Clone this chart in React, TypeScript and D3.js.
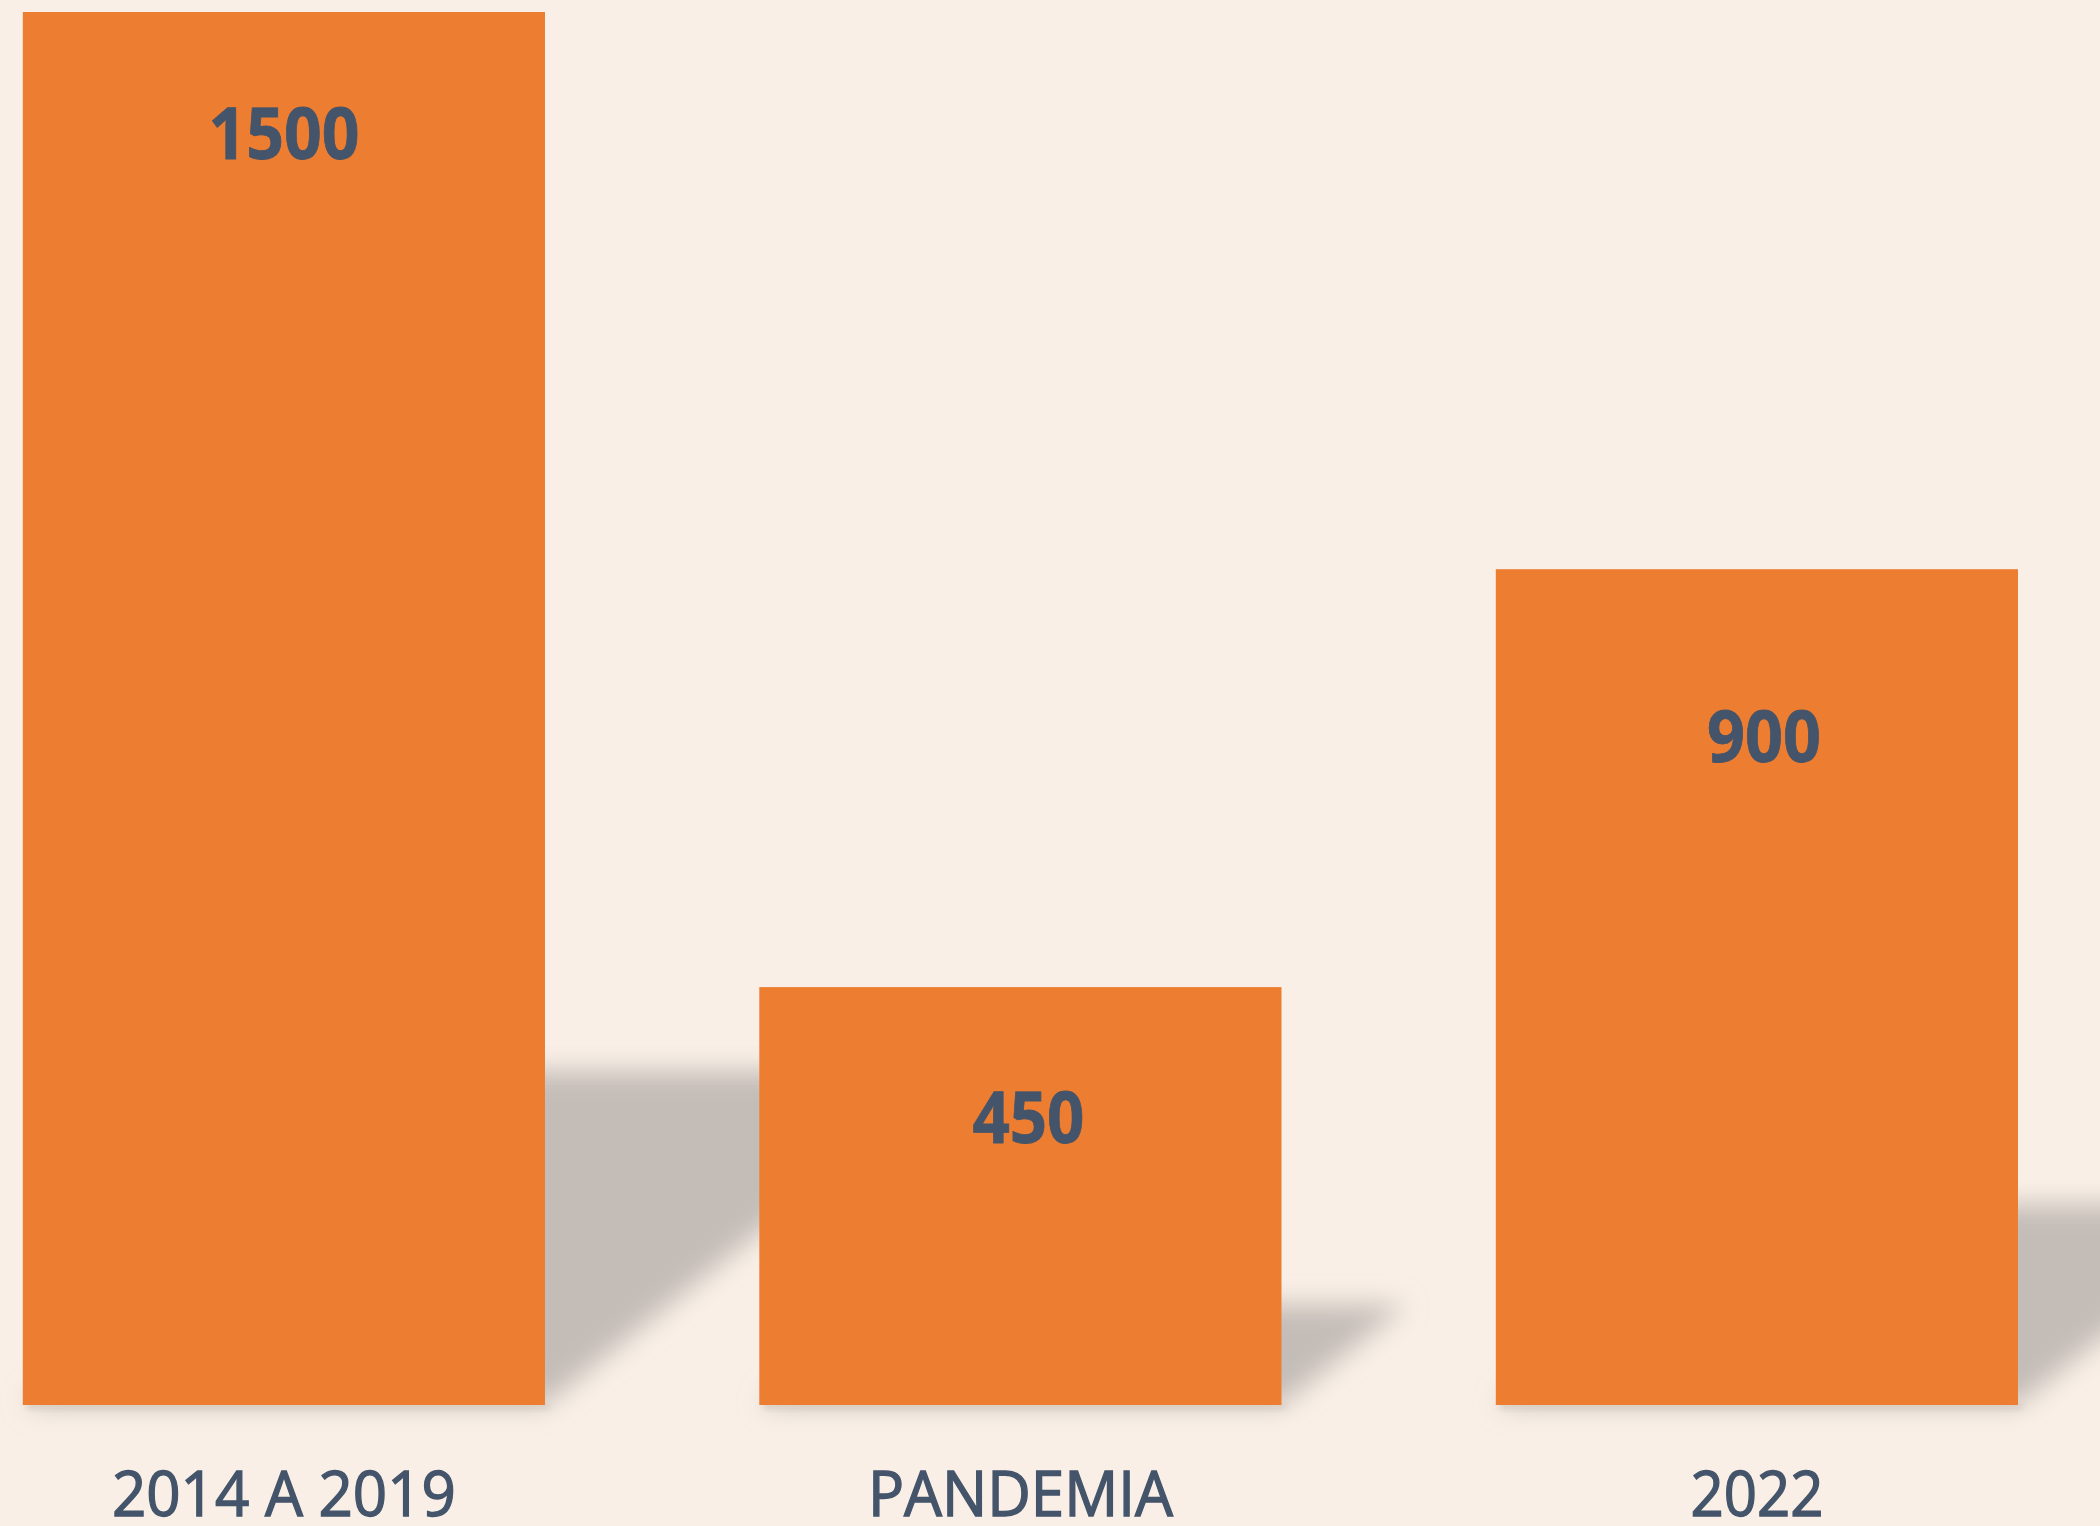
import React from "react";
import * as d3 from "d3";

// ---- data ----
const categories = ["2014 A 2019", "PANDEMIA", "2022"];
const values = [1500, 450, 900];
const valueLabels = ["1500", "450", "900"];

// ---- layout / style (not data) ----
const W = 2100;
const H = 1526;
const BG = "#F9EFE6";
const BAR = "#ED7D31";
const TEXT = "#44546A";
const labelDy = [147, 156, 193];
const labelDx = [0, 8, 7];
const valueLabelWidths = [151, 112, 114];
const catLabelWidths = [344, 305, 133];

export default function App() {
  const x = d3
    .scaleBand<string>()
    .domain(categories)
    .range([22.8, 2018])
    .paddingInner(0.291)
    .paddingOuter(0);
  const y = d3.scaleLinear().domain([0, 1500]).range([1405, 12]);
  const base = y(0);
  const shadowScale = 0.24;
  const shadowSkew = 1.24;

  return (
    <svg
      width={W}
      height={H}
      style={{ position: "absolute", left: 0, top: 0, display: "block" }}
    >
      <defs>
        <filter id="blur" x="-50%" y="-50%" width="200%" height="200%">
          <feGaussianBlur stdDeviation={13} />
        </filter>
        <filter id="blurSmall" x="-10%" y="-50%" width="120%" height="200%">
          <feGaussianBlur stdDeviation={3} />
        </filter>
      </defs>
      <rect x={0} y={0} width={W} height={H} fill={BG} />
      {/* perspective shadows */}
      {categories.map((c, i) => {
        const x0 = x(c)!;
        const x1 = x0 + x.bandwidth();
        const h = base - y(values[i]);
        const sh = h * shadowScale;
        const dx = sh * shadowSkew;
        const p = d3.path();
        p.moveTo(x0, base);
        p.lineTo(x1, base);
        p.lineTo(x1 + dx, base - sh);
        p.lineTo(x0 + dx, base - sh);
        p.closePath();
        return (
          <path key={"s" + i} d={p.toString()} fill="#c4bdb7" filter="url(#blur)" />
        );
      })}
      {/* small drop shadow under bars */}
      {categories.map((c, i) => (
        <rect
          key={"d" + i}
          x={x(c)! + 4}
          y={base - 4}
          width={x.bandwidth()}
          height={8}
          fill="#d9cfc6"
          filter="url(#blurSmall)"
        />
      ))}
      {/* bars */}
      {categories.map((c, i) => (
        <rect
          key={"b" + i}
          x={x(c)!}
          y={y(values[i])}
          width={x.bandwidth()}
          height={base - y(values[i])}
          fill={BAR}
        />
      ))}
      {/* value labels */}
      {categories.map((c, i) => {
        const cx = x(c)! + x.bandwidth() / 2 + labelDx[i];
        const w = valueLabelWidths[i];
        return (
          <text
            key={"v" + i}
            x={cx - w / 2}
            y={y(values[i]) + labelDy[i]}
            textLength={w}
            lengthAdjust="spacingAndGlyphs"
            fontFamily="'Open Sans', 'Noto Sans', sans-serif"
            fontWeight={700}
            fontSize={71}
            fill={TEXT}
            stroke={TEXT}
            strokeWidth={0.8}
          >
            {valueLabels[i]}
          </text>
        );
      })}
      {/* category labels */}
      {categories.map((c, i) => {
        const cx = x(c)! + x.bandwidth() / 2;
        const w = catLabelWidths[i];
        return (
          <text
            key={"c" + i}
            x={cx - w / 2}
            y={1516}
            textLength={w}
            lengthAdjust="spacingAndGlyphs"
            fontFamily="'Open Sans', 'Noto Sans', sans-serif"
            fontWeight={400}
            fontSize={62}
            fill={TEXT}
            stroke={TEXT}
            strokeWidth={1.4}
          >
            {c}
          </text>
        );
      })}
    </svg>
  );
}
